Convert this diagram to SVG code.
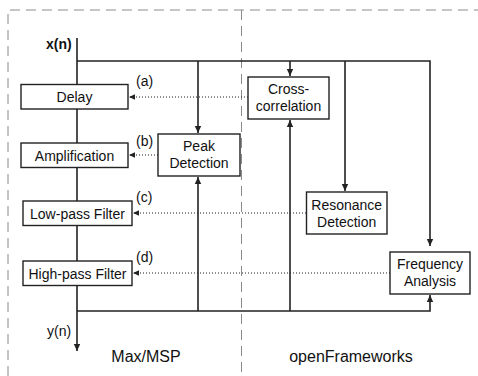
<svg xmlns="http://www.w3.org/2000/svg" width="478" height="376" viewBox="0 0 478 376">
<style>
.bg{fill:#fff}
.frame{fill:none;stroke:#8a8a8a;stroke-width:1;stroke-dasharray:10,6}
.box{fill:#fff;stroke:#222;stroke-width:1.4}
.ln{fill:none;stroke:#222;stroke-width:1.6}
.dot{fill:none;stroke:#222;stroke-width:1.2;stroke-dasharray:1,2}
.t{font-family:"Liberation Sans",Arial,sans-serif;font-size:14px;fill:#111;text-anchor:middle}
.lab{font-family:"Liberation Sans",Arial,sans-serif;font-size:14px;fill:#111}
.big{font-family:"Liberation Sans",Arial,sans-serif;font-size:16px;fill:#111;text-anchor:middle}
</style>
<defs>
<marker id="ah" markerUnits="userSpaceOnUse" markerWidth="8" markerHeight="8" refX="7" refY="4" orient="auto">
<path d="M0,0.8 L7,4 L0,7.2 Z" fill="#222"/>
</marker>
<marker id="ahs" markerUnits="userSpaceOnUse" markerWidth="8" markerHeight="8" refX="6" refY="4" orient="auto">
<path d="M0,1.2 L6,4 L0,6.8 Z" fill="#222"/>
</marker>
</defs>
<rect class="bg" width="478" height="376"/>
<g id="frame">
<path class="frame" d="M8,376 V10 H478"/>
<path class="frame" d="M241.5,10 V376"/>
</g>
<g id="connectors">
<path class="ln" d="M77,38 V351" marker-end="url(#ah)"/>
<path class="ln" d="M77,61 H430 V246" marker-end="url(#ah)"/>
<path class="ln" d="M198,61 V133" marker-end="url(#ah)"/>
<path class="ln" d="M290,61 V76" marker-end="url(#ah)"/>
<path class="ln" d="M345,61 V191" marker-end="url(#ah)"/>
<path class="ln" d="M77,311 H430 V295" marker-end="url(#ah)"/>
<path class="ln" d="M198,311 V177" marker-end="url(#ah)"/>
<path class="ln" d="M290,311 V120" marker-end="url(#ah)"/>
<path class="dot" d="M248,97 H129" marker-end="url(#ahs)"/>
<path class="dot" d="M158,155 H129" marker-end="url(#ahs)"/>
<path class="dot" d="M306,213 H133" marker-end="url(#ahs)"/>
<path class="dot" d="M390,273 H133" marker-end="url(#ahs)"/>
</g>
<g id="delay"><rect class="box" x="21" y="84.5" width="107" height="24.5"/><text class="t" x="74.5" y="102">Delay</text></g>
<g id="amplification"><rect class="box" x="21" y="143" width="107" height="24.5"/><text class="t" x="74.5" y="160.5">Amplification</text></g>
<g id="lowpass"><rect class="box" x="23" y="201" width="109" height="24.5"/><text class="t" x="77.5" y="218.5">Low-pass Filter</text></g>
<g id="highpass"><rect class="box" x="23" y="261" width="109" height="24.5"/><text class="t" x="77.5" y="278.5">High-pass Filter</text></g>
<g id="peak"><rect class="box" x="158" y="134" width="82" height="42"/><text class="t" x="199" y="151">Peak</text><text class="t" x="199" y="168">Detection</text></g>
<g id="cross"><rect class="box" x="248" y="77" width="81" height="42"/><text class="t" x="288.5" y="94">Cross-</text><text class="t" x="288.5" y="111">correlation</text></g>
<g id="resonance"><rect class="box" x="306.5" y="192" width="80.5" height="42"/><text class="t" x="346.7" y="210">Resonance</text><text class="t" x="346.7" y="227">Detection</text></g>
<g id="frequency"><rect class="box" x="390" y="252" width="80" height="42"/><text class="t" x="430" y="269">Frequency</text><text class="t" x="430" y="286">Analysis</text></g>
<g id="labels">
<text class="lab" x="46" y="49" font-weight="bold">x(n)</text>
<text class="lab" x="47" y="336">y(n)</text>
<text class="lab" x="136" y="86">(a)</text>
<text class="lab" x="136" y="146">(b)</text>
<text class="lab" x="136" y="202">(c)</text>
<text class="lab" x="136" y="262">(d)</text>
<text class="big" x="146" y="362">Max/MSP</text>
<text class="big" x="351" y="362">openFrameworks</text>
</g>
</svg>
